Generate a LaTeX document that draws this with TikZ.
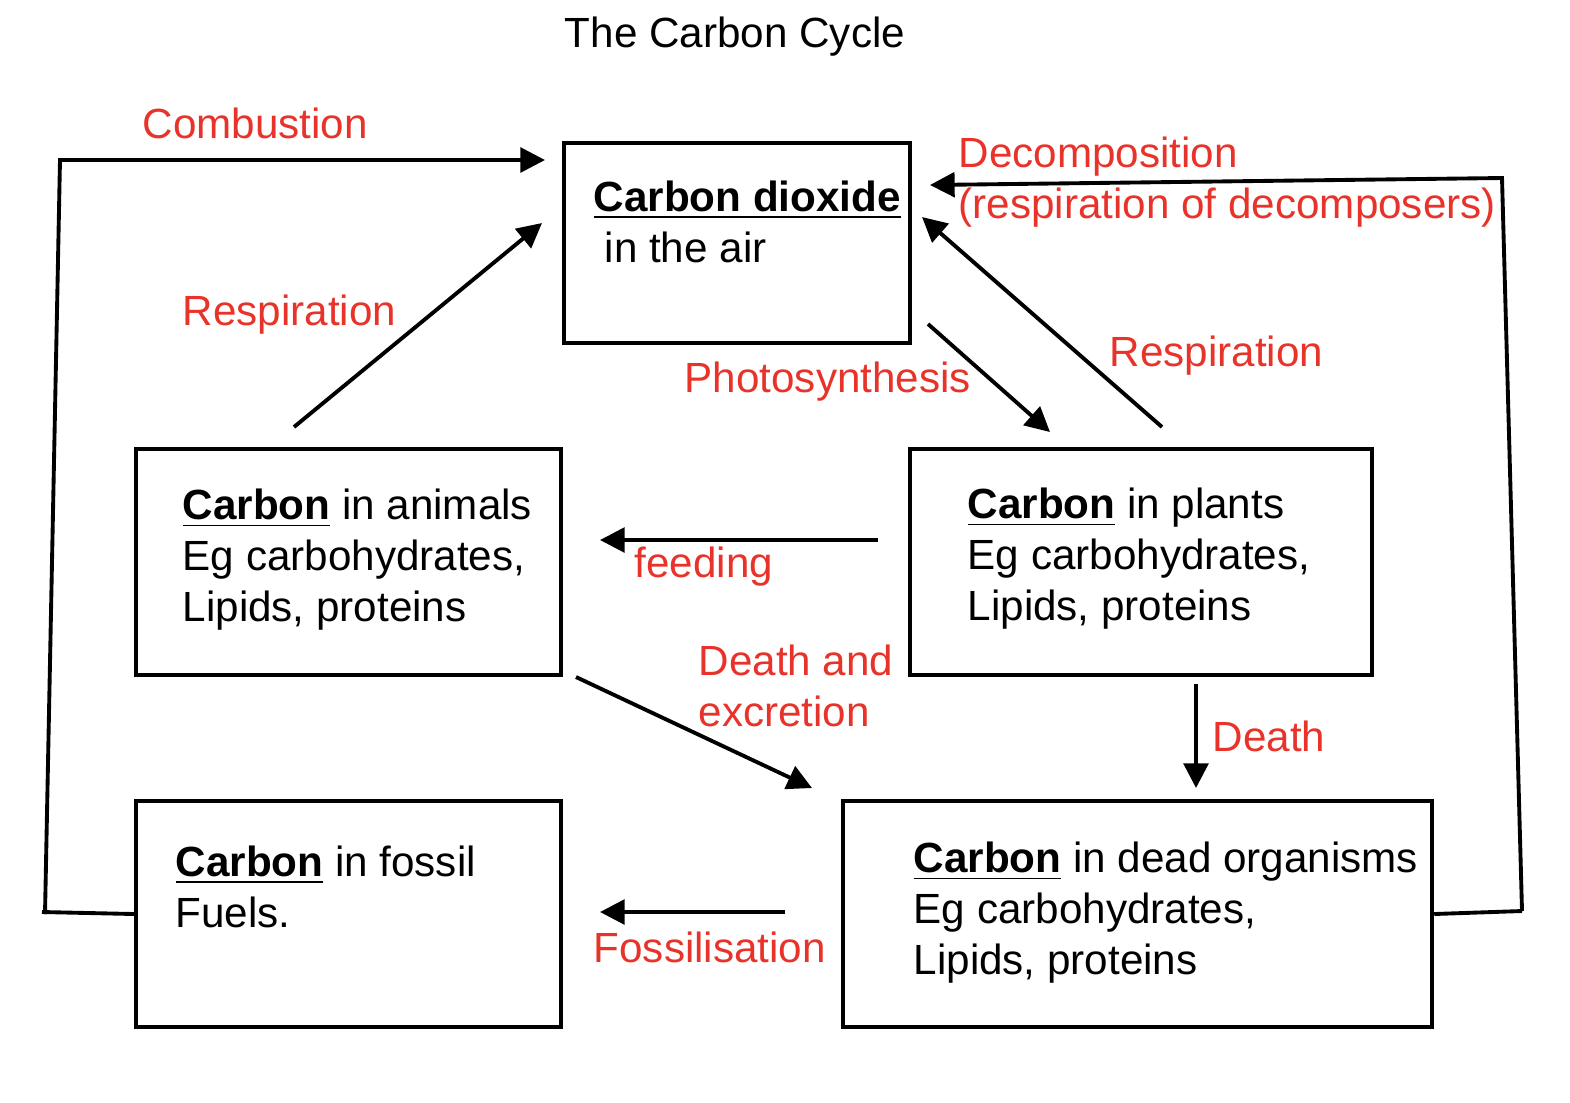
\documentclass[tikz,border=0pt]{standalone}
\usepackage{fontspec}
\setmainfont{Liberation Sans}
\usetikzlibrary{arrows.meta, positioning}
\definecolor{lblred}{HTML}{E8332A}

\begin{document}
\begin{tikzpicture}[
    x=0.01cm, y=-0.01cm,
    every node/.style={font=\fontsize{12}{14.5}\selectfont},
    box/.style={draw, line width=1.1pt, inner sep=0pt, anchor=north west},
    txt/.style={anchor=west, align=left, inner sep=0pt},
    lbl/.style={anchor=west, inner sep=0pt, text=lblred},
    flow/.style={line width=1.1pt, -{Triangle[length=7pt, width=7pt]}},
    line/.style={line width=1.1pt}
]
\useasboundingbox (0,0) rectangle (1570,1102);

% title
\node (title) at (735,37) {The Carbon Cycle};

% boxes
\node[box, minimum width=3.46cm, minimum height=2.00cm] (air) at (562,141) {};
\node[box, minimum width=4.25cm, minimum height=2.26cm] (animals) at (134,447) {};
\node[box, minimum width=4.62cm, minimum height=2.26cm] (plants) at (908,447) {};
\node[box, minimum width=4.25cm, minimum height=2.26cm] (fossil) at (134,799) {};
\node[box, minimum width=5.89cm, minimum height=2.26cm] (dead) at (841,799) {};

% box texts
\node[txt] (airtxt) at (593,222) {\underline{\textbf{Carbon dioxide}}\\\hspace{0.11cm}in the air};
\node[txt] (animtxt) at (182,560) {\underline{\textbf{Carbon}} in animals\\Eg carbohydrates,\\Lipids, proteins};
\node[txt] (planttxt) at (967,559) {\underline{\textbf{Carbon}} in plants\\Eg carbohydrates,\\Lipids, proteins};
\node[txt] (fossiltxt) at (175,887) {\underline{\textbf{Carbon}} in fossil\\Fuels.};
\node[txt] (deadtxt) at (913,913) {\underline{\textbf{Carbon}} in dead organisms\\Eg carbohydrates,\\Lipids, proteins};

% free ends of the arrows
\coordinate (c1) at (42,912);
\coordinate (c2) at (60,160);
\coordinate (c3) at (545,160);
\coordinate (d1) at (1522,911);
\coordinate (d2) at (1502,178);
\coordinate (d3) at (930,185);
\coordinate (ra) at (294,427);
\coordinate (rb) at (542,223);
\coordinate (pa) at (928,324);
\coordinate (pb) at (1050,432);
\coordinate (qa) at (1162,427);
\coordinate (qb) at (922,217);
\coordinate (fa) at (878,540);
\coordinate (fb) at (600,540);
\coordinate (ea) at (576,677);
\coordinate (eb) at (812,788);
\coordinate (ka) at (1196,684);
\coordinate (kb) at (1196,788);
\coordinate (sa) at (785,912);
\coordinate (sb) at (600,912);

% connectors
\draw[line] (fossil.west) -- (c1);
\draw[flow] (c1 |- fossil.west) ++(3,0) -- (c2) -- (c3);
\draw[line] (dead.east) -- (d1);
\draw[flow] (d1) -- (d2) -- (d3);
\draw[flow] (ra) -- (rb);
\draw[flow] (pa) -- (pb);
\draw[flow] (qa) -- (qb);
\draw[flow] (fa) -- (fb);
\draw[flow] (ea) -- (eb);
\draw[flow] (ka) -- (kb);
\draw[flow] (sa) -- (sb);

% labels
\node[lbl] (lcomb) at (142,123) {Combustion};
\node[lbl] (ldec) at (958,183) {\begin{tabular}{@{}l@{}}Decomposition\\(respiration of decomposers)\end{tabular}};
\node[lbl] (lresp1) at (182,315) {Respiration};
\node[lbl] (lphoto) at (684,382) {Photosynthesis};
\node[lbl] (lresp2) at (1109,356) {Respiration};
\node[lbl] (lfeed) at (634,567) {feeding};
\node[lbl, align=left] (lexc) at (698,686) {Death and\\excretion};
\node[lbl] (ldeath) at (1212,736) {Death};
\node[lbl] (lfoss) at (593,947) {Fossilisation};
\end{tikzpicture}
\end{document}
